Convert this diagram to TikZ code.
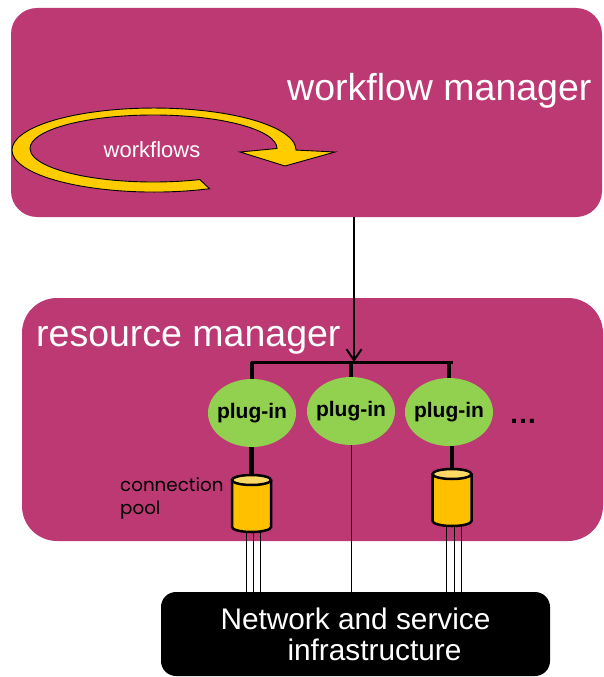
\documentclass[tikz,border=0pt]{standalone}
\usepackage{fontspec}
\setmainfont{Liberation Sans}
\newfontfamily\geofont{Poppins}
\usetikzlibrary{arrows.meta,shapes.geometric}

\definecolor{plum}{RGB}{188,57,116}
\definecolor{leaf}{RGB}{146,208,80}
\definecolor{amber}{RGB}{255,192,0}
\definecolor{amberlight}{RGB}{255,217,102}
\definecolor{loopgold}{RGB}{255,204,0}

\tikzset{
  panel/.style={fill=plum, draw=none, rounded corners=#1, inner sep=0pt},
  title/.style={text=white, font=\fontsize{37.5}{41}\selectfont, inner sep=0pt},
  plugin/.style={ellipse, fill=leaf, draw=none, minimum width=88pt, minimum height=68pt,
    inner sep=0pt, font=\fontsize{21}{24}\selectfont\bfseries},
  stub/.style={line width=4.5pt},
  busbar/.style={line width=3pt},
  wire/.style={line width=0.9pt},
  pool/.pic={
    \draw[line width=2.5pt, fill=amber] (-19.5,-23.5) -- (-19.5,23.5)
      arc[start angle=180, end angle=0, x radius=19.5, y radius=5] -- (19.5,-23.5);
    \filldraw[line width=2.5pt, fill=amberlight] (0,-23.5) ellipse[x radius=19.5, y radius=5];
    \coordinate (-top) at (0,-28.5);
    \coordinate (-bot) at (0,28.5);
  }
}

\begin{document}
\begin{tikzpicture}[x=1pt, y=-1pt]
\useasboundingbox (0,0) rectangle (603,677);
\clip (0,0) rectangle (603,677);

% the two manager panels
\node[panel=26pt, minimum width=591pt, minimum height=209pt] (wfm) at (306.5,112.5) {};
\node[panel=35pt, minimum width=581pt, minimum height=243pt] (rm) at (312.5,419.5) {};

% circular workflow arrow
\filldraw[fill=loopgold, draw=black, line width=0.9pt]
  (209.5,188.7) arc[start angle=67, end angle=360, x radius=142, y radius=42]
  -- (335,152) -- (285,166) -- (240,152) -- (277,148.5)
  arc[start angle=360, end angle=68, x radius=123.5, y radius=33.5] -- cycle;

\node[title, anchor=base west] (wfmtitle) at (287,100) {workflow manager};
\node[title, anchor=base west] (rmtitle) at (36,346) {resource manager};
\node[text=white, font=\fontsize{22}{26}\selectfont, inner sep=0pt, anchor=base] (loops) at (152,157) {workflows};

% infrastructure block
\node[fill=black, rounded corners=15pt, minimum width=389pt, minimum height=84pt,
  text=white, align=left, font=\fontsize{29.8}{31}\selectfont] (net) at (355.5,634)
  {Network and service\\\hspace*{67pt}infrastructure};

% plug-ins
\node[plugin] (pl1) at (252,413) {\makebox[0pt]{plug-in}};
\node[plugin] (pl2) at (351,411) {\makebox[0pt]{plug-in}};
\node[plugin] (pl3) at (449,412) {\makebox[0pt]{plug-in}};
\node[font=\fontsize{28}{30}\selectfont\bfseries, inner sep=0pt, anchor=base] (more) at (523,423) {…};

% dispatch from the workflow manager
\coordinate (hub) at (354,362);
\draw[line width=2pt, -{Straight Barb[length=11pt, width=15pt, line width=2pt]}] (hub |- wfm.south) -- (hub);
\draw[busbar] ([xshift=-1.5pt]pl1.north |- hub) -- ([xshift=4pt]pl3.north |- hub);
\draw[stub] (pl1.north |- hub) -- (pl1.north);
\draw[stub] (pl2.north |- hub) -- (pl2.north);
\draw[stub] (pl3.north |- hub) -- (pl3.north);

% connection pools and their wires
\coordinate (cylLc) at (251.5,503.5);
\coordinate (cylRc) at (452,497.5);
\foreach \dx in {-5.5,2,9} {
  \draw[wire] ([xshift=\dx pt]cylLc) -- ([xshift=\dx pt]cylLc |- net.north);
  \draw[wire] ([xshift=\dx pt]cylRc) -- ([xshift=\dx pt]cylRc |- net.north);
}
\draw[wire] (pl2.south) -- (pl2.south |- net.north);
\pic (cylL) at (cylLc) {pool};
\pic (cylR) at (cylRc) {pool};
\draw[stub] (cylL-top |- pl1.south) -- (cylL-top);
\draw[stub] (cylR-top |- pl3.south) -- (cylR-top);

\node[font=\geofont\fontsize{18.3}{23}\selectfont, align=left, inner sep=0pt, anchor=north west] (poollabel) at (120,477) {connection\\pool};
\end{tikzpicture}
\end{document}
